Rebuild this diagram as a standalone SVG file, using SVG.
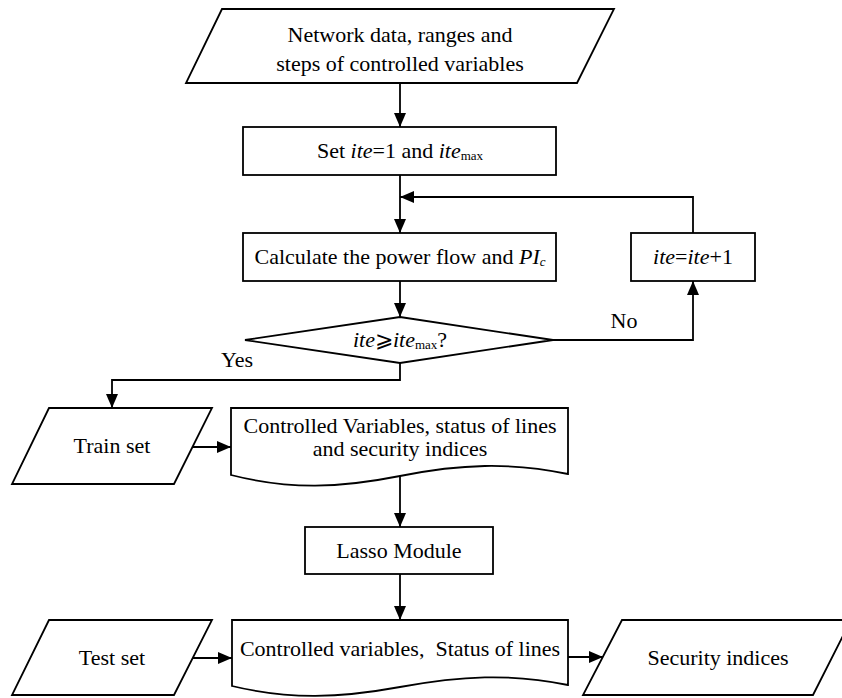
<svg xmlns="http://www.w3.org/2000/svg" width="842" height="698" viewBox="0 0 842 698">
<style>
.s{fill:#fff;stroke:#000;stroke-width:1.8;stroke-linejoin:miter}
.c{fill:none;stroke:#000;stroke-width:1.8}
text{font-family:'Times New Roman','Liberation Serif',Tinos,'DejaVu Serif',serif;font-size:22px;fill:#000;text-anchor:middle}
.i{font-style:italic}
.sub{font-size:13px}
</style>
<defs>
<marker id="ah" markerUnits="userSpaceOnUse" markerWidth="14" markerHeight="12" viewBox="0 0 14 12" refX="14" refY="6" orient="auto">
<path d="M0,0 L14,6 L0,12 Z" fill="#000"/>
</marker>
</defs>
<g id="connectors">
<path class="c" d="M400,83 V127" marker-end="url(#ah)"/>
<path class="c" d="M400,175 V233" marker-end="url(#ah)"/>
<path class="c" d="M693,233 V197 H400" marker-end="url(#ah)"/>
<path class="c" d="M400,281 V317" marker-end="url(#ah)"/>
<path class="c" d="M553,340 H693 V281" marker-end="url(#ah)"/>
<path class="c" d="M400,363 V380 H112 V408" marker-end="url(#ah)"/>
<path class="c" d="M193,447 H231" marker-end="url(#ah)"/>
<path class="c" d="M400,476 V527" marker-end="url(#ah)"/>
<path class="c" d="M400,574 V620" marker-end="url(#ah)"/>
<path class="c" d="M193,658 H232" marker-end="url(#ah)"/>
<path class="c" d="M568,657 H603" marker-end="url(#ah)"/>
<text x="624" y="328">No</text>
<text x="237" y="367">Yes</text>
</g>
<g id="input">
<path class="s" d="M222,9 H614 L577,83 H186 Z"/>
<text x="400" y="42">Network data, ranges and</text>
<text x="400" y="71">steps of controlled variables</text>
</g>
<g id="init">
<rect class="s" x="243" y="127" width="313" height="48"/>
<text x="400" y="158">Set <tspan class="i">ite</tspan>=1 and <tspan class="i">ite</tspan><tspan class="sub" dy="2">max</tspan></text>
</g>
<g id="calc">
<rect class="s" x="243" y="233" width="313" height="48"/>
<text x="400" y="264">Calculate the power flow and <tspan class="i">PI</tspan><tspan class="i sub" dy="2">c</tspan></text>
</g>
<g id="incr">
<rect class="s" x="631" y="233" width="124" height="48"/>
<text x="693" y="264"><tspan class="i">ite</tspan>=<tspan class="i">ite</tspan>+1</text>
</g>
<g id="decision">
<path class="s" d="M400,317 L553,340 L400,363 L245,340 Z"/>
<text x="400" y="347"><tspan class="i">ite</tspan>⩾<tspan class="i">ite</tspan><tspan class="sub" dy="2">max</tspan><tspan dy="-2">?</tspan></text>
</g>
<g id="train">
<path class="s" d="M49,408 H212 L174,484 H12 Z"/>
<text x="112" y="453">Train set</text>
</g>
<g id="trainData">
<path class="s" d="M231,408 H568 V474 C510,462 460,464 400,476 C340,488 290,490 231,475 Z"/>
<text x="400" y="433">Controlled Variables, status of lines</text>
<text x="400" y="456">and security indices</text>
</g>
<g id="lasso">
<rect class="s" x="305" y="527" width="188" height="47"/>
<text x="399" y="558">Lasso Module</text>
</g>
<g id="test">
<path class="s" d="M49,620 H212 L174,695 H12 Z"/>
<text x="112" y="665">Test set</text>
</g>
<g id="testData">
<path class="s" d="M232,620 H568 V685 C510,673 460,676 400,687 C340,698 290,700 232,686 Z"/>
<text x="400" y="656">Controlled variables,&#160; Status of lines</text>
</g>
<g id="output">
<path class="s" d="M622,620 H851 L813,695 H583 Z"/>
<text x="718" y="665">Security indices</text>
</g>
</svg>
